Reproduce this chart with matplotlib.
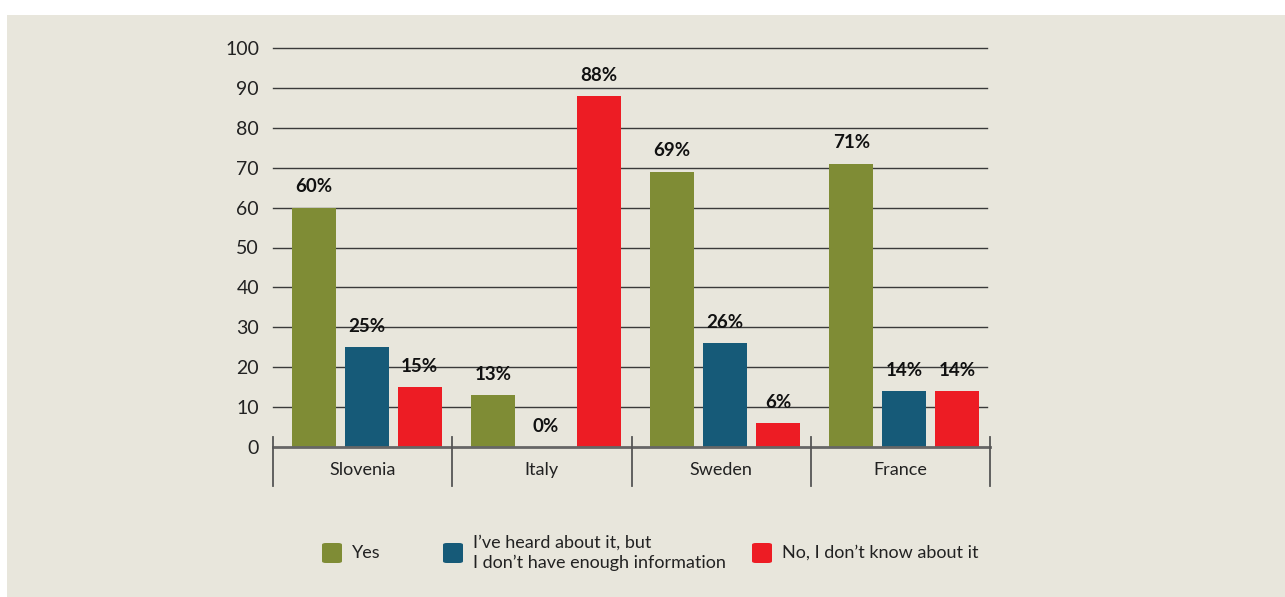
import matplotlib
matplotlib.use("Agg")
import matplotlib.pyplot as plt
from matplotlib.patches import Rectangle, FancyBboxPatch
import matplotlib.transforms as mtransforms
import numpy as np

categories = ["Slovenia", "Italy", "Sweden", "France"]
series_names = ["Yes", "I\u2019ve heard about it, but\nI don\u2019t have enough information", "No, I don\u2019t know about it"]
yes_vals = [60, 13, 69, 71]
heard_vals = [25, 0, 26, 14]
no_vals = [15, 88, 6, 14]
yticks = [0, 10, 20, 30, 40, 50, 60, 70, 80, 90, 100]

colors = ["#7F8C35", "#165A78", "#ED1C24"]
bg = "#E8E6DC"

plt.rcParams['font.family'] = ['Lato', 'DejaVu Sans']

fig = plt.figure(figsize=(12.85, 5.97), dpi=100)
fig.patch.set_facecolor("white")
fig.patches.append(Rectangle((7/1285, 0), 1 - 7/1285, (597-15)/597,
                             transform=fig.transFigure, facecolor=bg, edgecolor="none", zorder=-10))

W, H = 1285, 597
x0, x1 = 273, 990
yb, yt = 447, 48
ax = fig.add_axes([x0/W, (H-yb)/H, (x1-x0)/W, (yb-yt)/H])
ax.set_zorder(5)
ax.set_facecolor("none")
ax.set_xlim(0, 4)
ax.set_ylim(0, 100)
for s in ax.spines.values():
    s.set_visible(False)

# gridlines
for t in yticks[1:]:
    ax.axhline(t, xmin=0, xmax=(987-x0)/(x1-x0), color="#3a3a3a", lw=1.0, zorder=1, clip_on=False)
ax.axhline(0, color="#666666", lw=2.0, zorder=3, clip_on=False)

px = (x1 - x0) / 4.0
centers = np.arange(len(categories)) + 0.5
group_centers = centers + 4 / px
offset = 53 / px
bw = 44 / px
series = [yes_vals, heard_vals, no_vals]
for i, vals in enumerate(series):
    xs = group_centers + (i - 1) * offset
    ax.bar(xs, vals, width=bw, color=colors[i], zorder=2)
    for xx, v in zip(xs, vals):
        ax.annotate(f"{v}%", (xx, v), xytext=(0, 15), textcoords="offset points",
                    ha="center", va="center", fontsize=13.5, fontweight="bold",
                    color="#111111")

# category separators
trans = mtransforms.blended_transform_factory(ax.transData, ax.transAxes)
for k in range(len(categories) + 1):
    ax.plot([k, k], [10/399, -39/399], transform=trans, color="#555555", lw=1.3, clip_on=False, zorder=3)

ax.set_xticks(centers)
ax.set_xticklabels(categories, fontsize=13, color="#222222")
ax.tick_params(axis="x", length=0, pad=11)
ax.set_yticks(yticks)
ax.set_yticklabels([str(t) for t in yticks], fontsize=14, color="#222222")
ax.tick_params(axis="y", length=0, pad=10)

# legend (manual)
leg_items = [(322, 352), (443, 473), (752, 782)]
for (sx, tx), name, c in zip(leg_items, series_names, colors):
    fig.patches.append(FancyBboxPatch(((sx)/W, (H-563)/H), 20/W, 20/H,
                                      boxstyle="round,pad=0,rounding_size=0.003",
                                      transform=fig.transFigure, facecolor=c, edgecolor="none"))
    fig.text(tx/W, (H-553)/H, name, ha="left", va="center", fontsize=13,
             color="#222222", linespacing=1.3)

fig.savefig("out.png", dpi=100, facecolor="white")
